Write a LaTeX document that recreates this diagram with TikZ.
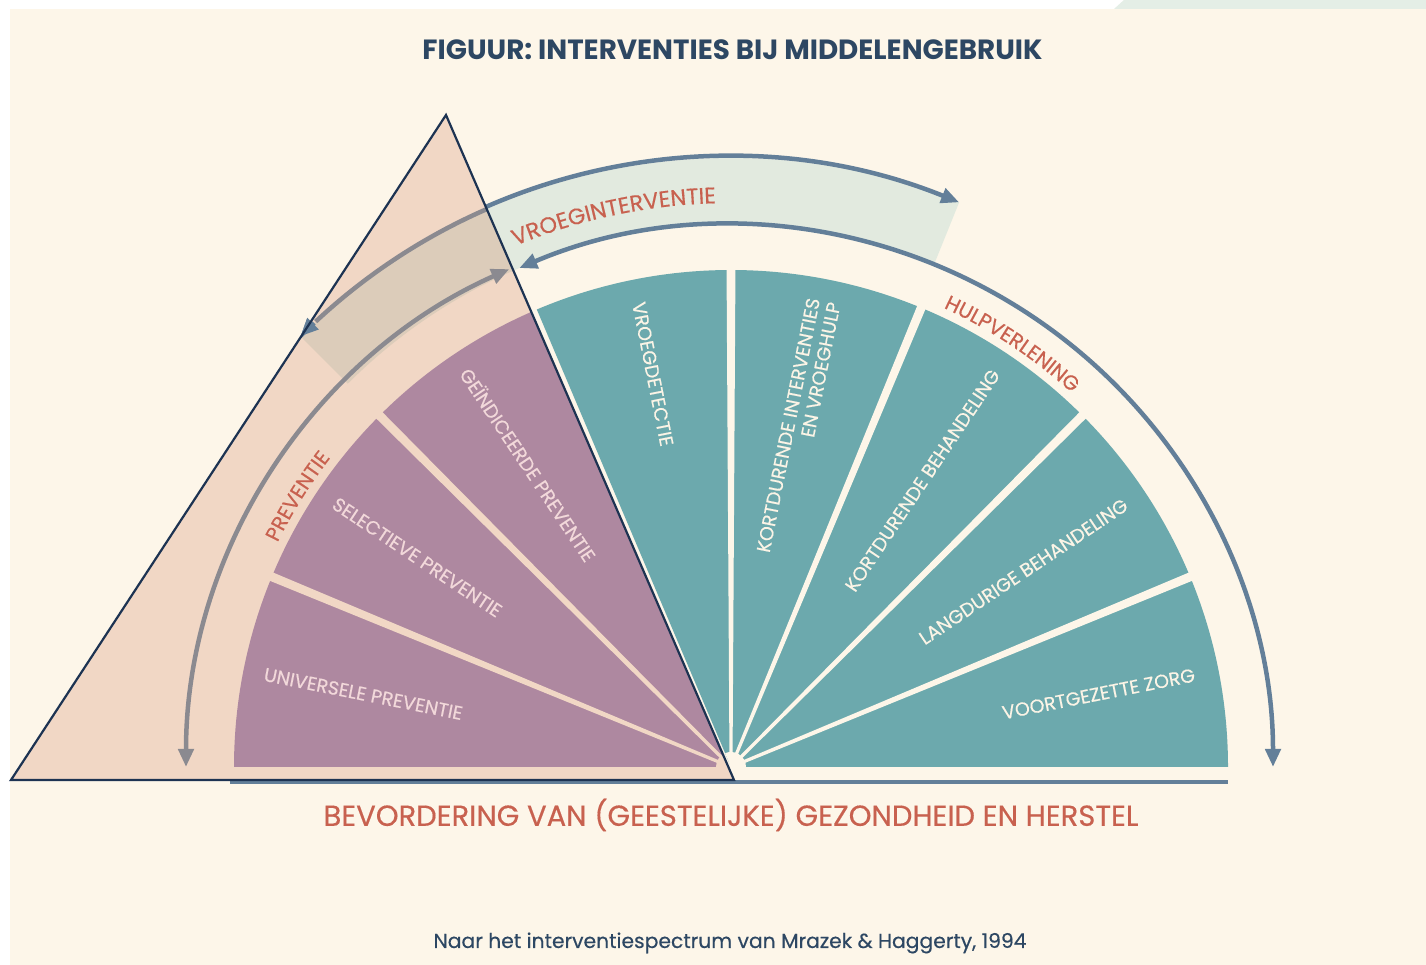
\documentclass[tikz,border=0pt]{standalone}
\usepackage{fontspec}
\setmainfont{Poppins}
\newfontfamily\medium[FakeBold=0.4]{Poppins}
\usetikzlibrary{arrows.meta,calc,decorations.text}

\definecolor{creambg}{HTML}{FDF6E9}
\definecolor{mintbg}{HTML}{E4EEE6}
\definecolor{bandgreen}{HTML}{E2EADF}
\definecolor{peach}{HTML}{F1D7C5}
\definecolor{bandtan}{HTML}{DCCCBA}
\definecolor{mauve}{HTML}{AE88A0}
\definecolor{tealfan}{HTML}{6CA9AD}
\definecolor{slateline}{HTML}{637F99}
\definecolor{greyline}{HTML}{8B8A90}
\definecolor{navyline}{HTML}{1D3352}
\definecolor{rusttxt}{HTML}{C8614F}
\definecolor{navytxt}{HTML}{2D4763}
\definecolor{pinktxt}{HTML}{F2D8DA}
\definecolor{lighttxt}{HTML}{FBF4E6}

\newcommand\fanfont{\medium\fontsize{19}{21}\selectfont}
\newcommand\arcfont{\medium\fontsize{22.5}{24}\selectfont}
\newcommand\ringfont{\medium\fontsize{20.5}{22}\selectfont}

\tikzset{
  arcarrow/.style={line width=4.5pt,{Triangle[length=18pt,width=15pt]}-{Triangle[length=18pt,width=15pt]}},
  fanlabel/.style={inner sep=0pt,font=\fanfont},
  outline/.style={navyline,line width=2.2pt,line join=miter}
}

\begin{document}
\begin{tikzpicture}[x=1pt,y=1pt]
        \pgfmathsetmacro{\Rfan}{497}
        \pgfmathsetmacro{\Rin}{542}
        \pgfmathsetmacro{\Rpre}{545}
        \pgfmathsetmacro{\Rout}{609}
\useasboundingbox (0,0) rectangle (1426,965);
\fill[white] (0,0) rectangle (1426,965);
\fill[creambg] (10,0) rectangle (1426,956);
\fill[mintbg] (1114,956) -- (1124,965) -- (1426,965) -- (1426,956) -- cycle;

\coordinate (C) at (731,198);
\coordinate (apex) at (446,850);
\coordinate (bl) at (11,185);
\coordinate (br) at (734,185);

% vroeginterventie band and arcs
\fill[bandgreen] ([shift={(135:\Rin)}]C) arc[start angle=135,end angle=68,radius=\Rin]
   -- ([shift={(68:\Rout)}]C) arc[start angle=68,end angle=135,radius=\Rout] -- cycle;
\draw[arcarrow,slateline] ([shift={(135:\Rout)}]C) arc[start angle=135,end angle=68,radius=\Rout];
\draw[arcarrow,slateline] ([shift={(113:\Rin)}]C) arc[start angle=113,end angle=0,radius=\Rin];

\fill[peach] (apex) -- (bl) -- (br) -- cycle;
\begin{scope}
\clip (apex) -- (bl) -- (br) -- cycle;
\fill[bandtan] ([shift={(135:\Rin)}]C) arc[start angle=135,end angle=68,radius=\Rin]
   -- ([shift={(68:\Rout)}]C) arc[start angle=68,end angle=135,radius=\Rout] -- cycle;
\draw[line width=4.5pt,greyline] ([shift={(133:\Rout)}]C) arc[start angle=133,end angle=68,radius=\Rout];
\end{scope}
\draw[line width=4.5pt,slateline,{Triangle[length=18pt,width=15pt]}-] ([shift={(135:\Rout)}]C) arc[start angle=135,end angle=133.2,radius=\Rout];
\draw[arcarrow,greyline] ([shift={(180:\Rpre)}]C) arc[start angle=180,end angle=114,radius=\Rpre];

% preventie sectors
\begin{scope}
\clip (apex) -- (bl) -- (br) -- cycle;
\fill[mauve] (C) -- ([shift={(112.5:\Rfan)}]C) arc[start angle=112.5,end angle=180,radius=\Rfan] -- cycle;
\foreach \a in {135,157.5}
  \fill[peach] ($(C)+(\a+90:1.5)$) -- ($(C)+(\a:\Rfan+10)+(\a+90:4.5)$) -- ($(C)+(\a:\Rfan+10)+(\a-90:4.5)$) -- ($(C)+(\a-90:1.5)$) -- cycle;
\fill[peach] (C) -- ([shift={(112.5:15)}]C) arc[start angle=112.5,end angle=180,radius=15] -- cycle;
\end{scope}

% hulpverlening sectors
\fill[tealfan] (C) -- ([shift={(0:\Rfan)}]C) arc[start angle=0,end angle=113,radius=\Rfan] -- cycle;
\foreach \a in {22.5,45,67.5,90}
  \fill[creambg] ($(C)+(\a+90:1.5)$) -- ($(C)+(\a:\Rfan+10)+(\a+90:4.5)$) -- ($(C)+(\a:\Rfan+10)+(\a-90:4.5)$) -- ($(C)+(\a-90:1.5)$) -- cycle;
\fill[creambg] (C) -- ([shift={(0:15)}]C) arc[start angle=0,end angle=113,radius=15] -- cycle;

\draw[slateline,line width=4pt] (230,183) -- (1228,183);
\draw[outline] (apex) -- (bl) -- (br) -- cycle;

% labels along the arcs
\path[decorate,decoration={text along path,text align=center,
   text={|\arcfont\color{rusttxt}|VROEGINTERVENTIE}}]
   ([shift={(122:564)}]C) arc[start angle=122,end angle=82,radius=564];
\path[decorate,decoration={text along path,text align=center,
   text={|\ringfont\color{rusttxt}|PREVENTIE}}]
   ([shift={(160:506)}]C) arc[start angle=160,end angle=136,radius=506];
\path[decorate,decoration={text along path,text align=center,
   text={|\ringfont\color{rusttxt}|HULPVERLENING}}]
   ([shift={(68.4:506)}]C) arc[start angle=68.4,end angle=44.4,radius=506];

% sector labels
\node[fanlabel,text=pinktxt,rotate=-11.25,anchor=west] (univ) at ([shift={(168.75:476)}]C) {UNIVERSELE PREVENTIE};
\node[fanlabel,text=pinktxt,rotate=-33.75,anchor=west] (select) at ([shift={(146.25:477)}]C) {SELECTIEVE PREVENTIE};
\node[fanlabel,text=pinktxt,rotate=-56.25,anchor=west] (geind) at ([shift={(123.75:478)}]C) {GEÏNDICEERDE PREVENTIE};
\node[fanlabel,text=lighttxt,rotate=-78.75,anchor=west] (vroegdet) at ([shift={(101.25:474)}]C) {VROEGDETECTIE};
\node[fanlabel,text=lighttxt,rotate=78.75,anchor=east,align=right] (kortint) at ([shift={(78.75:476)}]C) {KORTDURENDE INTERVENTIES\\EN VROEGHULP};
\node[fanlabel,text=lighttxt,rotate=56.25,anchor=east] (kortbeh) at ([shift={(56.25:476)}]C) {KORTDURENDE BEHANDELING};
\node[fanlabel,text=lighttxt,rotate=33.75,anchor=east] (langbeh) at ([shift={(33.75:475)}]C) {LANGDURIGE BEHANDELING};
\node[fanlabel,text=lighttxt,rotate=11.25,anchor=east] (zorg) at ([shift={(11.25:473)}]C) {VOORTGEZETTE ZORG};

\node[font=\fontsize{27.8}{31}\selectfont\bfseries,text=navytxt] (title) at (732.5,915) {FIGUUR: INTERVENTIES BIJ MIDDELENGEBRUIK};
\node[font=\medium\fontsize{29}{32}\selectfont,text=rusttxt] (herstel) at (731,150) {BEVORDERING VAN (GEESTELIJKE) GEZONDHEID EN HERSTEL};
\node[font=\medium\fontsize{20.3}{24}\selectfont,text=navytxt] (bron) at (730,22) {Naar het interventiespectrum van Mrazek \& Haggerty, 1994};
\end{tikzpicture}
\end{document}
